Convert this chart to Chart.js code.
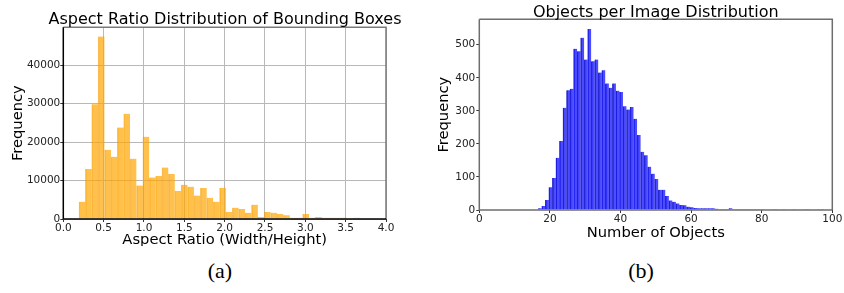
<!DOCTYPE html>
<html><head><meta charset="utf-8">
<script src="https://cdn.jsdelivr.net/npm/chart.js@4.4.0/dist/chart.umd.min.js"></script>
<style>
html,body{margin:0;padding:0;background:#fff;width:844px;height:293px;overflow:hidden;}
#wrapA{position:absolute;left:0;top:0;width:420px;height:246px;overflow:hidden;}
#wrapB{position:absolute;left:420px;top:0;width:424px;height:250px;}
canvas{display:block;}
.ttl{position:absolute;width:500px;text-align:center;white-space:nowrap;font-family:'DejaVu Sans',sans-serif;font-size:16px;line-height:16px;color:#000;}
.cap{position:absolute;top:260px;font-family:'Liberation Serif',serif;font-size:22px;line-height:22px;width:60px;text-align:center;color:#000;}
</style></head><body>
<div id="wrapA"><canvas id="a" width="420" height="260"></canvas></div>
<div id="wrapB"><canvas id="b" width="424" height="250"></canvas></div>
<div class="ttl" style="left:-25px;top:10.5px">Aspect Ratio Distribution of Bounding Boxes</div>
<div class="ttl" style="left:405.8px;top:3.8px">Objects per Image Distribution</div>
<div class="cap" style="left:190px">(a)</div>
<div class="cap" style="left:611px">(b)</div>
<script>
// ---- Chart (a): aspect ratio histogram ----
const aspectBinCenters = [0.234,0.313,0.392,0.471,0.551,0.630,0.709,0.788,0.867,0.947,1.026,1.105,1.184,1.263,1.342,1.422,1.501,1.580,1.659,1.738,1.818,1.897,1.976,2.055,2.134,2.214,2.293,2.372,2.451,2.530,2.610,2.689,2.768,2.847,2.926,3.006,3.085,3.164,3.243,3.322,3.402,3.481,3.560,3.639];
const aspectCounts = [4500,13000,29900,47500,18000,16200,23800,27400,15700,8700,21400,10800,11200,13400,11700,7300,8900,8400,6100,8100,5500,4500,8100,1800,2900,2600,1600,3700,500,1800,1600,1300,1000,300,300,1300,300,500,300,300,300,300,0,300];
const aspectXTicks = [0,0.5,1,1.5,2,2.5,3,3.5,4];
const aspectYTicks = [0,10000,20000,30000,40000];

// ---- Chart (b): objects per image histogram ----
const objBinCenters = [17.2,18.2,19.2,20.2,21.2,22.2,23.2,24.2,25.2,26.2,27.2,28.2,29.2,30.2,31.2,32.2,33.2,34.2,35.2,36.2,37.2,38.2,39.2,40.2,41.2,42.2,43.2,44.2,45.2,46.2,47.2,48.2,49.2,50.2,51.2,52.2,53.2,54.2,55.2,56.2,57.2,58.2,59.2,60.2,61.2,62.2,63.2,64.2,65.2,66.2,67.2,68.2,69.2,70.2,71.2,72.2,73.2,74.2,75.2,76.2,77.2,78.2,79.2,80.2,81.2,82.2,83.2,84.2,85.2,86.2,87.2,88.2,89.2,90.2,91.2,92.2,93.2,94.2,95.2,96.2,97.2];
const objCounts = [5,12,30,69,97,158,209,309,362,367,488,480,521,455,548,450,455,416,423,383,370,383,361,357,314,304,312,276,227,176,166,131,110,94,61,61,42,29,25,20,15,14,10,8,6,5,5,5,5,5,4,2,2,2,5,2,2,2,1,1,1,2,2,1,0,0,1,2,0,1,0,0,1,0,0,1,2,0,0,1,2];
const objXTicks = [0,20,40,60,80,100];
const objYTicks = [0,100,200,300,400,500];

const FONT = "'DejaVu Sans', sans-serif";

const framePlugin = {
  id: 'frame',
  afterDatasetsDraw(chart, args, o) {
    const {ctx, chartArea: {left, right, top, bottom}} = chart;
    ctx.save();
    ctx.lineWidth = o.width;
    ctx.strokeStyle = o.tr;
    ctx.beginPath();
    ctx.moveTo(left, top); ctx.lineTo(right, top); ctx.lineTo(right, bottom);
    ctx.stroke();
    ctx.strokeStyle = o.bl;
    ctx.beginPath();
    ctx.moveTo(left, top); ctx.lineTo(left, bottom); ctx.lineTo(right, bottom);
    ctx.stroke();
    ctx.restore();
  }
};

function makeChart(id, cfg) {
  const pts = cfg.centers.map((c, i) => ({x: c, y: cfg.counts[i]}));
  return new Chart(document.getElementById(id), {
    type: 'bar',
    data: {datasets: [{
      data: pts,
      backgroundColor: cfg.bg,
      borderColor: cfg.edge,
      borderWidth: {left: 0.8, right: 0, top: 0, bottom: 0},
      borderSkipped: false,
      barPercentage: 1.0,
      categoryPercentage: 1.0
    }]},
    plugins: [framePlugin],
    options: {
      responsive: false,
      animation: false,
      devicePixelRatio: 1,
      layout: {padding: {left: 0, right: cfg.padRight, top: cfg.padTop, bottom: 0}},
      plugins: {
        legend: {display: false},
        tooltip: {enabled: false},
        title: {display: false},
        frame: {width: 1.5, tr: cfg.frameTR, bl: cfg.frameBL}
      },
      scales: {
        x: {
          type: 'linear', min: cfg.xmin, max: cfg.xmax, offset: false,
          afterBuildTicks: s => { s.ticks = cfg.xticks.map(v => ({value: v})); },
          afterFit: s => { s.height = cfg.xHeight; },
          ticks: {color: '#222', font: {family: FONT, size: 10.5}, padding: 0, maxRotation: 0,
            autoSkip: false, callback: cfg.xfmt},
          grid: {display: true, drawOnChartArea: cfg.grid, offset: false, color: '#b8b8b8', lineWidth: 1,
            drawTicks: true, tickLength: 3, tickColor: '#333'},
          border: {display: false},
          title: {display: true, text: cfg.xlabel, color: '#000',
            font: {family: FONT, size: 14.7, lineHeight: 1.2}, padding: {top: 0, bottom: cfg.xTitlePad}}
        },
        y: {
          type: 'linear', min: 0, max: cfg.ymax,
          afterBuildTicks: s => { s.ticks = cfg.yticks.map(v => ({value: v})); },
          afterFit: s => { s.width = cfg.yWidth; },
          ticks: {color: '#222', font: {family: FONT, size: 10.5}, padding: cfg.yTickPad,
            autoSkip: false, callback: v => String(v)},
          grid: {display: true, drawOnChartArea: cfg.grid, color: '#b8b8b8', lineWidth: 1,
            drawTicks: true, tickLength: 3, tickColor: '#333'},
          border: {display: false},
          title: {display: true, text: 'Frequency', color: '#000',
            font: {family: FONT, size: 14.7, lineHeight: 1.2}, padding: {top: cfg.yTitlePad, bottom: 0}}
        }
      }
    }
  });
}

makeChart('a', {
  centers: aspectBinCenters, counts: aspectCounts,
  bg: 'rgba(255,165,0,0.7)', edge: 'rgba(245,150,0,0.55)',
  xlabel: 'Aspect Ratio (Width/Height)',
  xmin: 0, xmax: 4, ymax: 49900,
  xticks: aspectXTicks, yticks: aspectYTicks,
  xfmt: v => Number(v).toFixed(1),
  padRight: 34, padTop: 27.3, xHeight: 41, yWidth: 63.3,
  xTitlePad: 10.8, yTitlePad: 9.5, yTickPad: 0,
  grid: true, frameTR: '#7a7a7a', frameBL: '#000'
});

makeChart('b', {
  centers: objBinCenters, counts: objCounts,
  bg: 'rgba(0,0,255,0.7)', edge: 'rgba(0,0,190,0.8)',
  xlabel: 'Number of Objects',
  xmin: 0, xmax: 100, ymax: 577,
  xticks: objXTicks, yticks: objYTicks,
  xfmt: v => String(v),
  padRight: 11.7, padTop: 19.3, xHeight: 40, yWidth: 59.3,
  xTitlePad: 8.3, yTitlePad: 15.8, yTickPad: 1,
  grid: false, frameTR: '#6e6e6e', frameBL: '#6e6e6e'
});
</script>
</body></html>
